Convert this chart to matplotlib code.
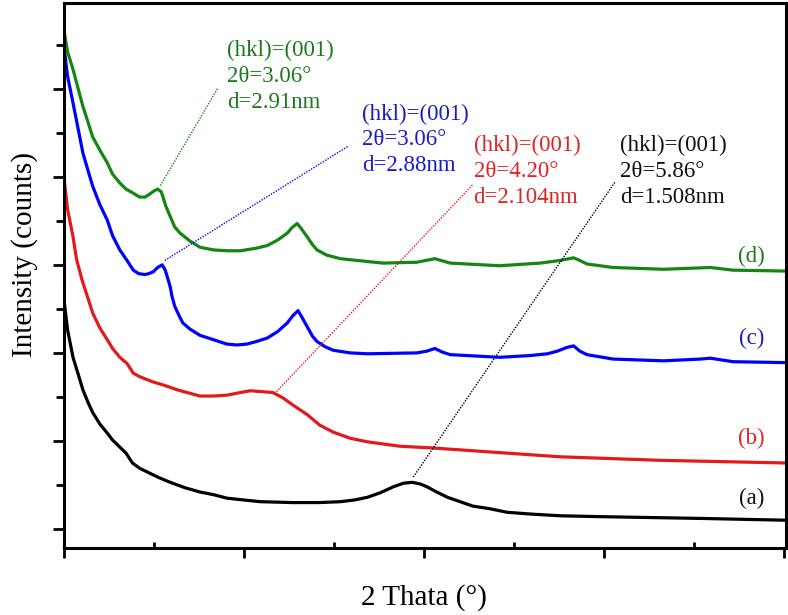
import matplotlib
matplotlib.use("Agg")
import matplotlib.pyplot as plt
from matplotlib.ticker import MultipleLocator, NullFormatter

plt.rcParams['font.family'] = ['Liberation Serif', 'DejaVu Serif']

# ---- data (2theta in degrees, intensity in arbitrary offset units) ----
x_a = [2.00, 2.04, 2.10, 2.16, 2.21, 2.27, 2.32, 2.40, 2.48, 2.54, 2.62, 2.69, 2.76, 2.84,
       2.92, 3.04, 3.18, 3.34, 3.51, 3.66, 3.81, 3.99, 4.18, 4.54, 4.84, 5.07, 5.23, 5.37,
       5.51, 5.66, 5.77, 5.87, 5.96, 6.03, 6.14, 6.26, 6.40, 6.54, 6.73, 6.92, 7.18, 7.51,
       7.96, 9.07, 10.0]
y_a = [2.60, 2.26, 1.95, 1.75, 1.58, 1.43, 1.32, 1.19, 1.09, 1.01, 0.93, 0.86, 0.75, 0.69,
       0.65, 0.59, 0.53, 0.47, 0.42, 0.39, 0.35, 0.33, 0.31, 0.30, 0.30, 0.31, 0.33, 0.36,
       0.41, 0.48, 0.52, 0.53, 0.51, 0.48, 0.42, 0.36, 0.31, 0.26, 0.23, 0.19, 0.17, 0.15,
       0.14, 0.12, 0.10]

x_b = [2.00, 2.04, 2.10, 2.14, 2.20, 2.26, 2.32, 2.40, 2.48, 2.54, 2.62, 2.70, 2.77, 2.84,
       2.99, 3.12, 3.26, 3.51, 3.66, 3.81, 3.96, 4.07, 4.20, 4.32, 4.43, 4.54, 4.70, 4.84,
       4.99, 5.18, 5.37, 5.73, 6.10, 6.66, 7.51, 8.62, 10.0]
y_b = [3.99, 3.63, 3.32, 3.06, 2.83, 2.64, 2.45, 2.28, 2.15, 2.05, 1.95, 1.88, 1.77, 1.73,
       1.67, 1.63, 1.58, 1.51, 1.51, 1.52, 1.55, 1.57, 1.56, 1.55, 1.49, 1.41, 1.30, 1.18,
       1.10, 1.03, 0.99, 0.94, 0.92, 0.88, 0.82, 0.78, 0.75]

x_c = [2.00, 2.04, 2.10, 2.16, 2.21, 2.27, 2.32, 2.40, 2.48, 2.54, 2.62, 2.70, 2.77, 2.83,
       2.90, 2.94, 2.99, 3.04, 3.09, 3.12, 3.14, 3.18, 3.20, 3.23, 3.28, 3.32, 3.40, 3.51,
       3.66, 3.81, 3.92, 4.03, 4.14, 4.26, 4.37, 4.48, 4.54, 4.60, 4.64, 4.70, 4.76, 4.81,
       4.90, 4.99, 5.18, 5.37, 5.92, 6.03, 6.12, 6.20, 6.29, 6.84, 7.18, 7.37, 7.48, 7.58,
       7.66, 7.73, 7.81, 8.10, 8.66, 9.07, 9.18, 9.43, 10.0]
y_c = [5.48, 5.14, 4.84, 4.53, 4.27, 4.06, 3.89, 3.68, 3.51, 3.33, 3.17, 3.05, 2.94, 2.90,
       2.89, 2.90, 2.92, 2.97, 3.00, 2.95, 2.89, 2.75, 2.64, 2.53, 2.42, 2.34, 2.27, 2.20,
       2.15, 2.10, 2.09, 2.10, 2.13, 2.17, 2.24, 2.34, 2.42, 2.48, 2.41, 2.30, 2.19, 2.13,
       2.07, 2.03, 2.00, 1.99, 2.00, 2.02, 2.05, 2.01, 1.98, 1.95, 1.97, 1.99, 2.02, 2.06,
       2.08, 2.02, 1.98, 1.93, 1.91, 1.93, 1.94, 1.90, 1.89]

x_d = [2.00, 2.04, 2.10, 2.16, 2.21, 2.27, 2.32, 2.40, 2.48, 2.54, 2.62, 2.69, 2.76, 2.84,
       2.90, 2.96, 3.00, 3.04, 3.08, 3.10, 3.13, 3.18, 3.23, 3.29, 3.40, 3.51, 3.66, 3.81,
       3.96, 4.14, 4.26, 4.37, 4.48, 4.53, 4.59, 4.63, 4.70, 4.76, 4.81, 4.92, 5.07, 5.54,
       5.92, 6.12, 6.29, 6.84, 7.29, 7.51, 7.66, 7.73, 7.81, 8.10, 8.66, 9.18, 9.43, 10.0]
y_d = [5.66, 5.42, 5.22, 4.99, 4.80, 4.61, 4.45, 4.30, 4.16, 4.03, 3.93, 3.86, 3.82, 3.77,
       3.77, 3.81, 3.84, 3.86, 3.83, 3.77, 3.67, 3.55, 3.43, 3.36, 3.27, 3.20, 3.17, 3.16,
       3.16, 3.19, 3.22, 3.28, 3.36, 3.42, 3.47, 3.42, 3.32, 3.23, 3.17, 3.11, 3.07, 3.02,
       3.03, 3.07, 3.02, 2.99, 3.02, 3.05, 3.08, 3.05, 3.01, 2.97, 2.95, 2.97, 2.94, 2.93]

curve_labels = ['(a)', '(b)', '(c)', '(d)']
annot_texts = ['(hkl)=(001)\n2θ=5.86°\nd=1.508nm',
               '(hkl)=(001)\n2θ=4.20°\nd=2.104nm',
               '(hkl)=(001)\n2θ=3.06°\nd=2.88nm',
               '(hkl)=(001)\n2θ=3.06°\nd=2.91nm']
# leader lines: (x0, y0, x1, y1) in data units
leader_lines = [(5.88, 0.59, 8.12, 3.94),
                (4.36, 1.56, 6.54, 3.91),
                (3.12, 3.05, 5.16, 4.35),
                (3.07, 3.90, 3.71, 5.01)]
annot_pos = [(8.18, 4.06), (6.55, 4.06), (5.31, 4.42), (3.81, 5.14)]
label_pos = [(9.64, 0.35), (9.64, 1.03), (9.64, 2.16), (9.64, 3.10)]

colors = ['#000000', '#e31a1c', '#0000ff', '#138613']
text_colors = ['#111111', '#e02424', '#1a1acc', '#1a7a1a']

fig = plt.figure(figsize=(7.88, 6.15), dpi=100)
ax = fig.add_axes([64/788, 67/615, 722/788, 545.5/615])

for xs, ys, c in zip([x_a, x_b, x_c, x_d], [y_a, y_b, y_c, y_d], colors):
    ax.plot(xs, ys, color=c, lw=2.3, solid_joinstyle='round')

for (x0, y0, x1, y1), c in zip(leader_lines, colors):
    ax.plot([x0, x1], [y0, y1], color=c, lw=1.0, ls=(0, (1, 1)))

for (tx, ty), t, c in zip(annot_pos, annot_texts, text_colors):
    ax.text(tx, ty, t, color=c, fontsize=16.5, ha='left', va='center', linespacing=1.3)

for (lx, ly), t, c in zip(label_pos, curve_labels, text_colors):
    ax.text(lx, ly, t, color=c, fontsize=16.5, ha='center', va='center')

ax.set_xlim(2, 10.02)
ax.set_ylim(-0.216, 5.98)

ax.xaxis.set_major_locator(MultipleLocator(2))
ax.xaxis.set_minor_locator(MultipleLocator(1))
ax.yaxis.set_major_locator(MultipleLocator(1))
ax.yaxis.set_minor_locator(MultipleLocator(0.5))
ax.xaxis.set_major_formatter(NullFormatter())
ax.yaxis.set_major_formatter(NullFormatter())

ax.tick_params(axis='x', which='major', direction='out', length=7, width=2)
ax.tick_params(axis='x', which='minor', direction='in', length=4, width=2)
ax.tick_params(axis='y', which='major', direction='out', length=8, width=2)
ax.tick_params(axis='y', which='minor', direction='out', length=6, width=2)
ax.tick_params(top=False, right=False, which='both')

for s in ax.spines.values():
    s.set_linewidth(2.2)

fig.text(424/788, 1 - 598/615, '2 Thata (°)', fontsize=21, ha='center', va='center')
fig.text(25/788, 1 - 255/615, 'Intensity (counts)', fontsize=21, ha='center', va='center',
         rotation=90)

fig.savefig('out.png', dpi=100)
